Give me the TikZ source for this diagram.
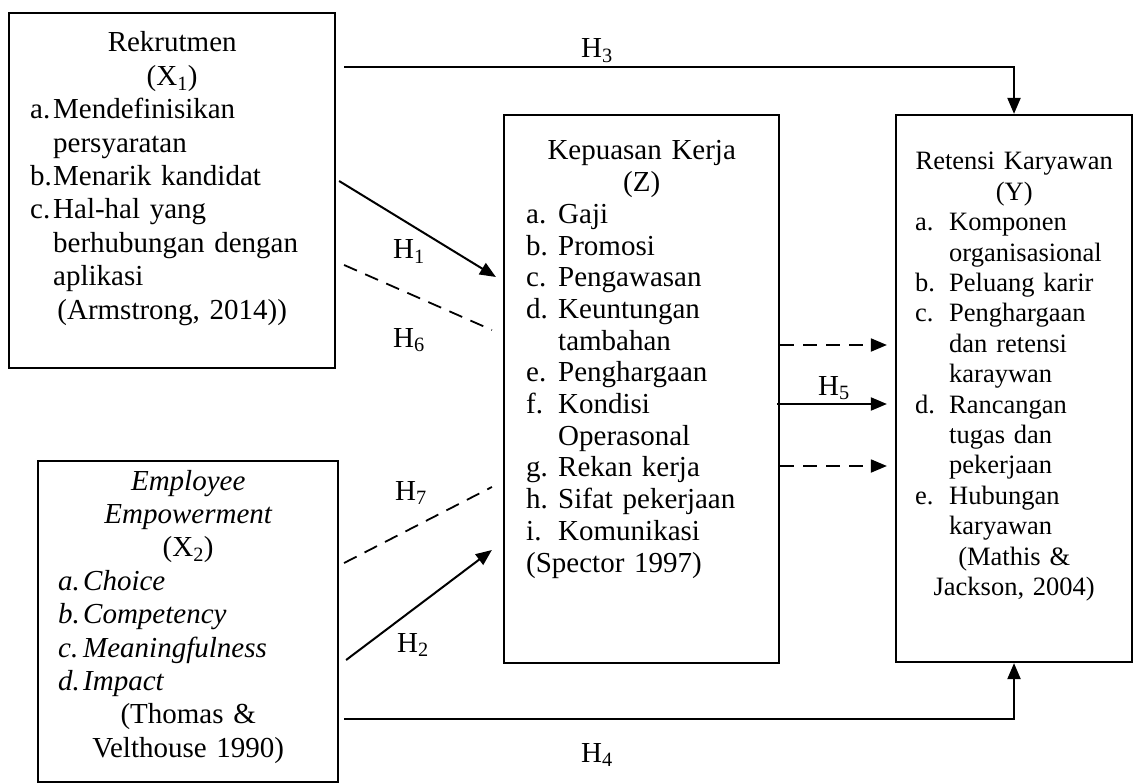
\documentclass[tikz,border=0pt]{standalone}
\usepackage{fontspec}
\setmainfont{Liberation Serif}
\usetikzlibrary{arrows.meta}
\newcommand{\butir}[2]{\hangindent=#1\hangafter=1\noindent\makebox[#1][l]{#2}\ignorespaces}
\begin{document}
\begin{tikzpicture}
[
    x=1pt, y=-1pt,
    kotak/.style={draw, line width=2.2pt, inner sep=0pt},
    isi/.style={inner sep=0pt, anchor=base west},
    panah/.style={line width=2pt, -{Triangle[length=16pt,width=13pt]}},
    putus/.style={line width=1.8pt, dash pattern=on 14pt off 9pt, -{Triangle[length=16pt,width=13pt]}},
    hlabel/.style={inner sep=0pt, anchor=base west, font=\fontsize{29}{33}\selectfont},
]
\useasboundingbox (0,0) rectangle (1134,783);
\node[kotak, minimum width=326pt, minimum height=355pt] (rek) at (172,190.5) {};
\node[kotak, minimum width=300pt, minimum height=321pt] (emp) at (188,621.5) {};
\node[kotak, minimum width=275pt, minimum height=548pt] (kep) at (641.5,389) {};
\node[kotak, minimum width=236pt, minimum height=547pt] (ret) at (1014,388.5) {};
\node[isi, text width=284pt, font=\fontsize{29}{33.4}\selectfont] (rekisi) at (30,52) {%
{\centering Rekrutmen\\(X\textsubscript{1})\par}
\butir{23pt}{a.}Mendefinisikan\newline persyaratan\par
\butir{23pt}{b.}Menarik kandidat\par
\butir{23pt}{c.}Hal-hal yang\newline berhubungan dengan\newline aplikasi\par
{\centering (Armstrong, 2014))\par}};
\node[isi, text width=260pt, font=\fontsize{29}{33.4}\selectfont] (empisi) at (58,490) {%
{\centering\itshape Employee\\Empowerment\\\upshape (X\textsubscript{2})\par}
\itshape
\butir{25pt}{a.}Choice\par
\butir{25pt}{b.}Competency\par
\butir{25pt}{c.}Meaningfulness\par
\butir{25pt}{d.}Impact\par
{\centering\upshape (Thomas \&\\Velthouse 1990)\par}};
\node[isi, text width=231pt, font=\fontsize{29}{31.7}\selectfont] (kepisi) at (526,160) {%
{\centering Kepuasan Kerja\\(Z)\par}
\butir{32pt}{a.}Gaji\par
\butir{32pt}{b.}Promosi\par
\butir{32pt}{c.}Pengawasan\par
\butir{32pt}{d.}Keuntungan\newline tambahan\par
\butir{32pt}{e.}Penghargaan\par
\butir{32pt}{f.}Kondisi\newline Operasonal\par
\butir{32pt}{g.}Rekan kerja\par
\butir{32pt}{h.}Sifat pekerjaan\par
\butir{32pt}{i.}Komunikasi\par
(Spector 1997)};
\node[isi, text width=198pt, font=\fontsize{26.5}{30.4}\selectfont] (retisi) at (915,170) {%
{\centering\mbox{Retensi Karyawan}\\(Y)\par}
\butir{34pt}{a.}Komponen\newline organisasional\par
\butir{34pt}{b.}Peluang karir\par
\butir{34pt}{c.}Penghargaan\newline dan retensi\newline karaywan\par
\butir{34pt}{d.}Rancangan\newline tugas dan\newline pekerjaan\par
\butir{34pt}{e.}Hubungan\newline karyawan\par
{\centering (Mathis \&\\Jackson, 2004)\par}};
\draw[panah] ([shift={(8,55)}]rek.north east) -| (ret.north);
\draw[panah] ([shift={(3,-9.5)}]rek.east) -- ([shift={(-7,-112)}]kep.west);
\draw[putus, -] ([shift={(8,74.5)}]rek.east) -- ([shift={(-11,-59)}]kep.west);
\draw[putus, -] ([shift={(5,-58.5)}]emp.east) -- ([shift={(-11,98)}]kep.west);
\draw[panah] ([shift={(7,38.5)}]emp.east) -- ([shift={(-11,161)}]kep.west);
\draw[panah] ([shift={(5,97.5)}]emp.east) -| (ret.south);
\draw[putus] ([shift={(0,-44)}]kep.east) -- ([shift={(-8,-43.5)}]ret.west);
\draw[panah] ([shift={(-3,15)}]kep.east) -- ([shift={(-8,15.5)}]ret.west);
\draw[putus] ([shift={(0,77)}]kep.east) -- ([shift={(-8,77.5)}]ret.west);
\node[hlabel, anchor=base] (lh3) at (597,58) {H\textsubscript{3}};
\node[hlabel] (lh1) at (393,259) {H\textsubscript{1}};
\node[hlabel] (lh6) at (393,347) {H\textsubscript{6}};
\node[hlabel] (lh7) at (395,500) {H\textsubscript{7}};
\node[hlabel] (lh2) at (397,652) {H\textsubscript{2}};
\node[hlabel] (lh5) at (818,395) {H\textsubscript{5}};
\node[hlabel, anchor=base] (lh4) at (597,762) {H\textsubscript{4}};
\end{tikzpicture}
\end{document}
